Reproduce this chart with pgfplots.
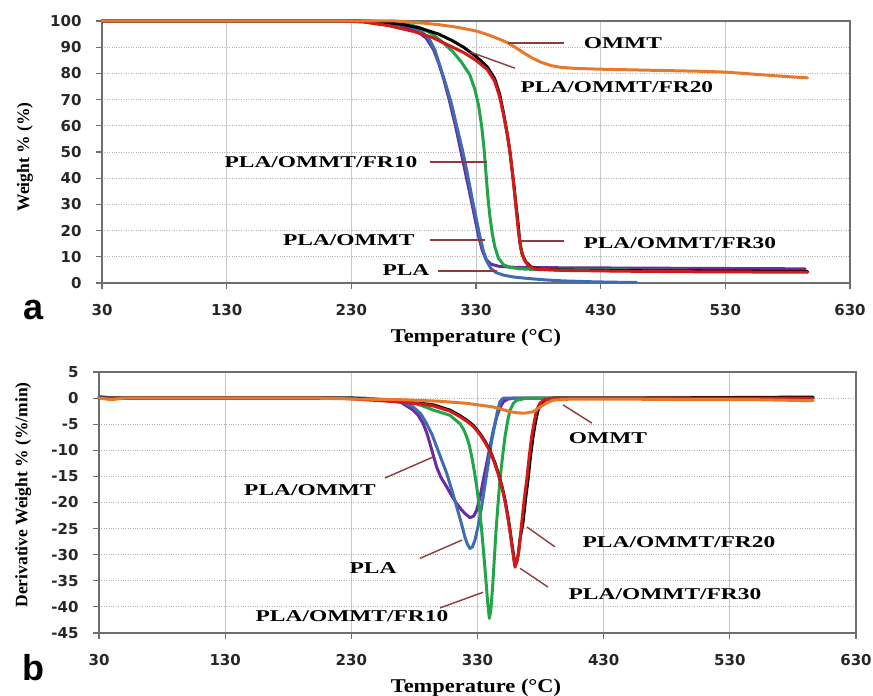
\documentclass[border=0pt]{standalone}
\usepackage{fontspec}
\setmainfont{Liberation Serif}
\newfontfamily\annfont[FakeStretch=1.42]{Liberation Serif}
\newfontfamily\xlabfont[FakeStretch=1.15]{Liberation Serif}
\newfontfamily\tickfont{DejaVu Sans}
\newfontfamily\panelfont{Liberation Sans}
\usepackage{pgfplots}
\pgfplotsset{compat=1.18}
\definecolor{cOr}{HTML}{E8792B}
\definecolor{cBl}{HTML}{3E6DB0}
\definecolor{cPu}{HTML}{6A2CA0}
\definecolor{cGr}{HTML}{22A447}
\definecolor{cRe}{HTML}{D11A1A}
\definecolor{cLd}{HTML}{8E3B3B}
\definecolor{gridc}{HTML}{C8C8C8}
\definecolor{axc}{HTML}{6E6E6E}
\tikzset{
  ann/.style={font=\annfont\bfseries\fontsize{16.5}{19}\selectfont, inner sep=0pt},
  leader/.style={draw=cLd, line width=1.4pt},
}
\pgfplotsset{tga/.style={
  scale only axis, xmin=30, xmax=630, xtick={30,130,...,630},
  tick align=outside, tick pos=left, major tick length=6pt,
  xmajorgrids, ymajorgrids,
  x grid style={gridc, line width=0.9pt},
  y grid style={gridc!90!black, dotted, line width=0.9pt},
  axis line style={draw=axc, line width=1.1pt},
  tick style={axc, line width=1.1pt},
  ticklabel style={font=\tickfont\bfseries\fontsize{15}{18}\selectfont, text=black!85},
  yticklabel style={xshift=-11pt},
  xticklabel style={yshift=-12pt},
  /pgf/number format/assume math mode=true,
  clip=false,
  every axis plot/.append style={line width=3pt, line join=round, line cap=round},
}}
\begin{document}
\begin{tikzpicture}
\useasboundingbox (0,0) rectangle (873pt,696pt);
% ---------------- top panel (a) ----------------
\begin{axis}[tga, at={(102pt,413pt)}, anchor=south west,
  width=748pt, height=262pt, ymin=0, ymax=100, ytick={0,10,...,100},
  xlabel={Temperature (°C)}, ylabel={Weight \% (\%)},
  xlabel style={font=\xlabfont\bfseries\fontsize{19.5}{22}\selectfont, at={(axis description cs:0.5,-0.21)}, anchor=center},
  ylabel style={font=\bfseries\fontsize{17.5}{20}\selectfont, at={(axis description cs:-0.103,0.481)}, anchor=center},
]
\addplot[cPu] coordinates {(30,100) (230,100) (255,99.3) (270,98.3) (282,96.3) (290,93.5) (296,89) (300,84) (304,78) (309,69) (314,59) (318,50) (322,41) (326,32) (329,25) (332,18) (335,12.5) (338,9) (342,7.2) (348,6.4) (360,6) (400,5.8) (450,5.7) (500,5.6) (550,5.5) (594,5.4)};
\addplot[cBl] coordinates {(30,100) (240,100) (260,99.4) (275,98.3) (285,96.5) (292,93.5) (297,89) (301,83) (305,77) (310,69) (315,59) (319,51) (323,42) (327,32) (330,25) (333,18) (336,12) (339,8) (342,5.5) (346,4) (352,3) (360,2.3) (370,1.8) (385,1.2) (400,0.8) (420,0.5) (440,0.3) (459,0.2)};
\addplot[cGr] coordinates {(30,100) (245,100) (262,99.5) (275,98.8) (285,97.5) (295,95) (303,92) (311,88.5) (318,84.5) (325,79.5) (329,74) (332,68) (334.5,60) (336.5,51) (338,42) (339.5,33) (341,26) (343,19) (345,14) (348,9.5) (352,7) (357,6) (365,5.4) (380,5.1) (420,5) (500,4.9)};
\addplot[black] coordinates {(30,100) (237,100) (255,99.6) (270,98.8) (285,97.3) (300,95) (311,92.5) (320,90) (330,86.5) (339,82.5) (345,78) (349,72) (352,65) (355,57) (357,51) (359,43) (360.5,37) (362,30) (363.5,24) (365,16) (367,11) (370,8) (374,6.2) (380,5.3) (400,4.9) (450,4.7) (500,4.6) (550,4.5) (596,4.4)};
\addplot[cRe] coordinates {(30,100) (223,100) (240,99.6) (260,98.2) (280,96) (295,93.7) (309,90.5) (320,88) (330,85) (339,81.5) (345,77) (349,71) (352,64.5) (355,57) (357.5,49) (359.5,41) (361,34) (362.5,27) (364,20) (366,13) (368.5,9) (372,6.5) (378,5.3) (400,4.8) (450,4.5) (500,4.3) (550,4.2) (596,4.1)};
\addplot[cOr] coordinates {(30,100) (265,100) (285,99.3) (300,98.6) (315,97.6) (330,96.2) (340,94.7) (348,93.2) (355,91.8) (362,89.8) (369,87.6) (375,85.9) (382,84.3) (390,83) (398,82.3) (410,81.9) (430,81.6) (470,81.2) (510,80.8) (530,80.5) (550,79.8) (570,79.1) (585,78.6) (596,78.3)};
% annotations
\draw[leader] (axis cs:355.6,91.6) -- (axis cs:400.5,91.6);
\node[ann] at (axis cs:447.8,91.6) {OMMT};
\draw[leader] (axis cs:325.1,88.2) -- (axis cs:361.2,82);
\node[ann] at (axis cs:443,74.8) {PLA/OMMT/FR20};
\draw[leader] (axis cs:293,46.2) -- (axis cs:338.7,46.2);
\node[ann] at (axis cs:205.6,46.2) {PLA/OMMT/FR10};
\draw[leader] (axis cs:293,16.4) -- (axis cs:337.1,16.4);
\node[ann] at (axis cs:228,16.4) {PLA/OMMT};
\draw[leader] (axis cs:365.2,16) -- (axis cs:400.5,16);
\node[ann] at (axis cs:493.5,15.3) {PLA/OMMT/FR30};
\draw[leader] (axis cs:299.4,4.6) -- (axis cs:346.8,4.6);
\node[ann] at (axis cs:273.8,5) {PLA};
\node[font=\panelfont\bfseries\fontsize{36}{40}\selectfont, inner sep=0pt] at (axis description cs:-0.091,-0.103) {a};
\end{axis}
% ---------------- bottom panel (b) ----------------
\begin{axis}[tga, at={(99pt,63pt)}, anchor=south west,
  width=757pt, height=261pt, ymin=-45, ymax=5, ytick={-45,-40,...,5},
  xlabel={Temperature (°C)}, ylabel={Derivative Weight \% (\%/min)},
  xlabel style={font=\xlabfont\bfseries\fontsize{19.5}{22}\selectfont, at={(axis description cs:0.498,-0.21)}, anchor=center},
  ylabel style={font=\bfseries\fontsize{17.5}{20}\selectfont, at={(axis description cs:-0.1,0.529)}, anchor=center},
]
\addplot[cPu] coordinates {(30,0) (230,0) (250,-0.3) (268.6,-0.7) (279,-2.3) (283,-3.3) (287,-4.9) (290,-6.8) (292.3,-8.7) (295,-11) (297.6,-13.2) (301,-15.2) (305.6,-17) (309.5,-18.7) (313.5,-20.2) (317,-21.3) (320,-22.1) (324,-22.9) (327,-22.6) (329.3,-21.5) (332,-19) (334.6,-15.7) (337.3,-12.5) (339.9,-9.3) (342.5,-6.2) (345.2,-3.6) (348,-1.8) (350.5,-0.7) (354,-0.2) (358.4,0) (450,0) (596,0)};
\addplot[cBl] coordinates {(30,0.3) (35,0.2) (40,0) (240,0) (255,-0.3) (268.6,-0.5) (279,-1.7) (285,-3) (289.7,-4.9) (294,-7) (297.6,-9.3) (301.5,-11.8) (305.6,-14.4) (309.5,-17.5) (313.5,-20.8) (317,-23.8) (320,-26.6) (322,-28) (324,-28.8) (326,-28.5) (328,-27.2) (330.5,-24.5) (333.3,-20.8) (336,-16.5) (338.6,-12.5) (341,-8.5) (343.9,-4.9) (346,-2.3) (347.8,-0.7) (350.5,0) (400,0) (459,0)};
\addplot[cGr] coordinates {(30,0) (230,0) (250,-0.2) (268.6,-0.4) (284.4,-1.3) (295,-2.3) (308.2,-3.3) (316.1,-4.9) (319,-6) (321.4,-7.4) (323.5,-9) (325.4,-11.2) (327.5,-14) (329.4,-17) (331.5,-21) (333.3,-25.3) (335,-30) (336.7,-34.9) (338,-39) (339.4,-42.2) (340.6,-40.5) (342,-36.1) (343.4,-30.5) (344.7,-25.3) (346.2,-20.5) (347.8,-15.7) (349.8,-11.3) (351.8,-7.4) (353.8,-4.5) (355.8,-2.3) (358.5,-1) (361.1,-0.4) (369,0) (450,0) (596,0)};
\addplot[black] coordinates {(30,0) (230,0) (250,-0.3) (268.6,-0.7) (285,-1) (295,-1.3) (308.2,-2.3) (315,-3.2) (321.4,-4.2) (327,-5.3) (332,-6.8) (336,-8.3) (339.9,-10) (343.5,-12.2) (346.5,-14.4) (349.5,-17) (351.8,-19.5) (354,-22.5) (355.8,-25.3) (357.3,-28) (358.4,-29.8) (359.7,-32) (361,-31.5) (362.4,-29.8) (364,-26.5) (366,-24) (368,-19.5) (370,-15.7) (372,-11.2) (374,-7.4) (376,-4.5) (378,-2.3) (380.5,-1) (383.2,-0.4) (391,0) (450,0) (596,0.2)};
\addplot[cRe] coordinates {(30,0) (220,0) (240,-0.3) (260,-0.6) (270,-0.8) (285,-1.1) (295,-1.5) (308.2,-2.5) (315,-3.4) (321.4,-4.4) (327,-5.5) (332,-7) (336,-8.5) (339.9,-10.2) (343.5,-12.4) (346.5,-14.6) (349.5,-17.2) (351.8,-19.8) (354,-22.8) (355.8,-25.6) (357.3,-28.3) (358.4,-30.2) (359.7,-32.4) (361,-31.5) (362.4,-29.8) (364,-26.5) (365,-24) (367,-19.5) (369,-15.7) (371,-11.2) (372.9,-7.4) (375,-4.5) (376.9,-2.3) (379.5,-1) (382.2,-0.4) (390,0) (450,0) (596,0)};
\addplot[cOr] coordinates {(30,0) (40,-0.3) (50,0) (200,0) (240,-0.2) (268.6,-0.3) (300,-0.6) (321.4,-1) (342.5,-1.7) (350,-2.2) (355.8,-2.6) (361,-2.8) (366.3,-2.9) (370,-2.8) (374.2,-2.6) (378,-2) (382.2,-1.3) (386,-0.8) (390,-0.4) (403,-0.2) (450,-0.2) (500,-0.3) (550,-0.3) (596,-0.5)};
% annotations
\draw[leader] (axis cs:256.7,-15.3) -- (axis cs:294.7,-11.3);
\node[ann] at (axis cs:197.2,-17.6) {PLA/OMMT};
\draw[leader] (axis cs:284.4,-30.7) -- (axis cs:317.7,-27.2);
\node[ann] at (axis cs:247.2,-32.6) {PLA};
\draw[leader] (axis cs:300.3,-40.2) -- (axis cs:334.4,-37.2);
\node[ann] at (axis cs:230.5,-41.8) {PLA/OMMT/FR10};
\draw[leader] (axis cs:397.8,-1.3) -- (axis cs:420.7,-4.8);
\node[ann] at (axis cs:433.4,-7.7) {OMMT};
\draw[leader] (axis cs:369.2,-24.7) -- (axis cs:391.4,-28.5);
\node[ann] at (axis cs:489.7,-27.6) {PLA/OMMT/FR20};
\draw[leader] (axis cs:363.7,-32.6) -- (axis cs:385.9,-36.2);
\node[ann] at (axis cs:478.6,-37.5) {PLA/OMMT/FR30};
\node[font=\panelfont\bfseries\fontsize{36}{40}\selectfont, inner sep=0pt] at (axis description cs:-0.086,-0.134) {b};
\end{axis}
\end{tikzpicture}
\end{document}
